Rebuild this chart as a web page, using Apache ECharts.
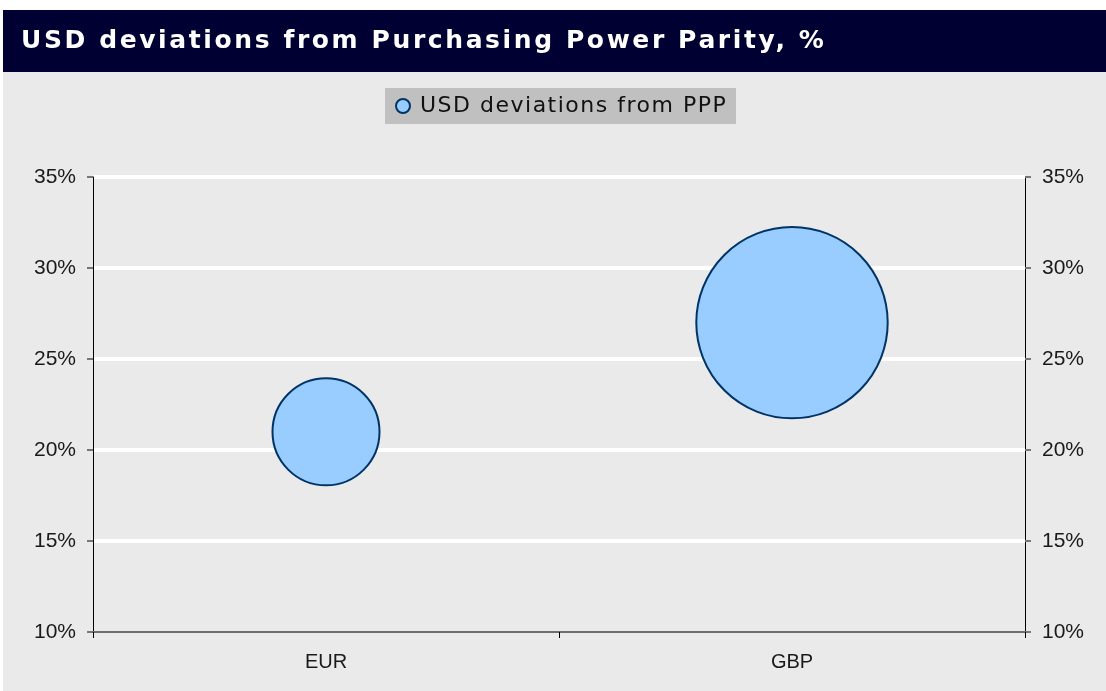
<!DOCTYPE html>
<html>
<head>
<meta charset="utf-8">
<script src="https://cdn.jsdelivr.net/npm/echarts@6/dist/echarts.min.js"></script>
<style>
html,body{margin:0;padding:0;background:#fff;}
#chart{width:1106px;height:691px;}
</style>
</head>
<body>
<div id="chart"></div>
<script>
var categories = ['EUR', 'GBP'];
var deviations = [21, 27];          // % deviation from PPP
var bubbleSizes = [1.0, 3.2];       // relative bubble size (area)
var yTicks = { min: 10, max: 35, interval: 5 };
var seriesName = 'USD deviations from PPP';
var chartTitle = 'USD deviations from Purchasing Power Parity, %';

// wide letter spacing of the original (Verdana-like) title and legend text
(function () {
  var proto = CanvasRenderingContext2D.prototype;
  if (!('letterSpacing' in proto)) return;
  var orig = proto.fillText;
  proto.fillText = function (t, x, y, w) {
    var f = this.font || '';
    var ls = '0px';
    if (/DejaVu/.test(f)) {
      if (/bold/.test(f) && /25px/.test(f)) ls = '2.6px';
      else if (/22px/.test(f)) ls = '1.5px';
    }
    this.letterSpacing = ls;
    this.font = f;
    return w === undefined ? orig.call(this, t, x, y) : orig.call(this, t, x, y, w);
  };
})();

var chart = echarts.init(document.getElementById('chart'));
var data = categories.map(function (c, i) { return [c, deviations[i], bubbleSizes[i]]; });
var labelFont = 'Liberation Sans, Arial, sans-serif';

var yAxisBase = {
  type: 'value',
  min: yTicks.min, max: yTicks.max, interval: yTicks.interval,
  axisLine: { show: true, lineStyle: { color: '#000', width: 1 } },
  axisTick: { show: true, length: 6, lineStyle: { color: '#777', width: 2 } },
  axisLabel: { formatter: '{value}%', color: '#1a1a1a', fontSize: 21, fontFamily: labelFont, margin: 17 }
};

chart.setOption({
  animation: false,
  backgroundColor: '#ffffff',
  graphic: [
    { type: 'rect', z: -10, silent: true, shape: { x: 3, y: 72, width: 1103, height: 619 }, style: { fill: '#EAEAEA' } },
    { type: 'rect', z: -10, silent: true, shape: { x: 3, y: 10, width: 1103, height: 62 }, style: { fill: '#000033' } },
    { type: 'rect', z: -9, silent: true, shape: { x: 385, y: 88, width: 351, height: 36 }, style: { fill: '#C0C0C0' } }
  ],
  title: {
    text: chartTitle,
    left: 21, top: 27, padding: 0,
    textStyle: { color: '#ffffff', fontFamily: 'DejaVu Sans, Verdana, sans-serif', fontWeight: 'bold', fontSize: 25, lineHeight: 29 }
  },
  legend: {
    left: 385, top: 88,
    padding: [7, 11, 7, 10],
    icon: 'circle',
    itemWidth: 14, itemHeight: 14,
    textStyle: { color: '#111', fontFamily: 'DejaVu Sans, Verdana, sans-serif', fontSize: 22, padding: [0, 0, 0, 5] },
    data: [seriesName]
  },
  grid: { left: 93, right: 81, top: 177, bottom: 59, containLabel: false },
  xAxis: {
    type: 'category',
    data: categories,
    boundaryGap: true,
    axisLine: { show: true, lineStyle: { color: '#6E6E6E', width: 2 } },
    axisTick: { show: true, length: 6, lineStyle: { color: '#000', width: 1 } },
    axisLabel: { color: '#1a1a1a', fontSize: 20, fontFamily: labelFont, margin: 20 },
    splitLine: { show: false },
    z: 5
  },
  yAxis: [
    Object.assign({}, yAxisBase, {
      position: 'left',
      splitLine: { show: true, showMinLine: false, lineStyle: { color: '#ffffff', width: 4 } }
    }),
    Object.assign({}, yAxisBase, {
      position: 'right',
      splitLine: { show: false }
    })
  ],
  series: [{
    name: seriesName,
    type: 'scatter',
    data: data,
    symbolSize: function (v) { return 107 * Math.sqrt(v[2]); },
    itemStyle: { color: '#99CCFF', borderColor: '#003366', borderWidth: 2, opacity: 1 }
  }]
});
</script>
</body>
</html>
